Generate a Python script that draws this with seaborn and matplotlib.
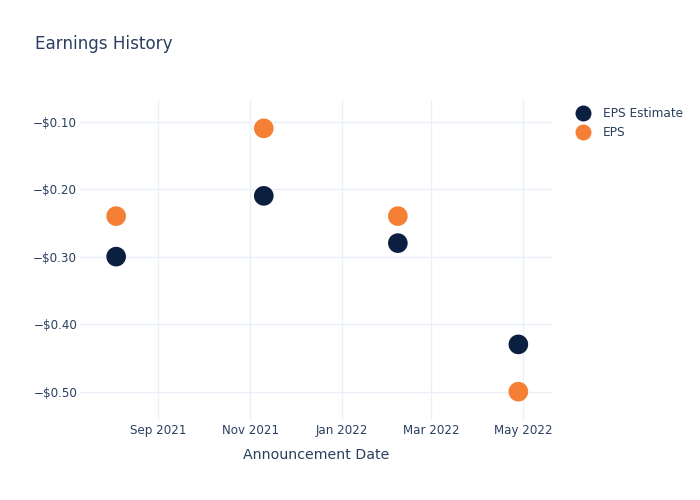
import matplotlib
matplotlib.use("Agg")
import matplotlib.pyplot as plt
import matplotlib.dates as mdates
from matplotlib.ticker import FuncFormatter, FixedLocator
from matplotlib.lines import Line2D
import seaborn as sns
import pandas as pd

dates = ["2021-08-04", "2021-11-10", "2022-02-07", "2022-04-28"]
eps_estimate = [-0.30, -0.21, -0.28, -0.43]
eps_actual = [-0.24, -0.11, -0.24, -0.50]
series_names = ["EPS Estimate", "EPS"]
y_ticks = [-0.10, -0.20, -0.30, -0.40, -0.50]

df = pd.DataFrame({
    "date": pd.to_datetime(dates * 2),
    "value": eps_estimate + eps_actual,
    "series": [series_names[0]] * len(dates) + [series_names[1]] * len(dates),
})

sns.set_style("white")
plt.rcParams['font.family'] = ['DejaVu Sans']
text_color = "#2a3f5f"
grid_color = "#ebf0f8"

fig = plt.figure(figsize=(7, 5), dpi=100)
ax = fig.add_axes([80/700, 1 - 420/500, (553 - 80)/700, (420 - 100)/500])

palette = {"EPS Estimate": "#0b1f41", "EPS": "#f58035"}
sns.scatterplot(data=df, x="date", y="value", hue="series", palette=palette,
                s=200, edgecolor="none", linewidth=0, ax=ax, zorder=3, legend=False)

ax.set_xlim(pd.Timestamp("2021-07-11"), pd.Timestamp("2022-05-21"))
ax.set_ylim(-0.542, -0.068)

ax.xaxis.set_major_locator(mdates.MonthLocator(bymonth=[1, 3, 5, 7, 9, 11]))
ax.xaxis.set_major_formatter(mdates.DateFormatter("%b %Y"))
ax.yaxis.set_major_locator(FixedLocator(y_ticks))
ax.yaxis.set_major_formatter(FuncFormatter(lambda v, p: ("\u2212$%.2f" % abs(v)) if v < 0 else ("$%.2f" % v)))

ax.grid(True, color=grid_color, linewidth=1)
ax.set_axisbelow(True)
for sp in ax.spines.values():
    sp.set_visible(False)
ax.tick_params(axis="both", length=0, labelsize=8.6, colors=text_color)
ax.tick_params(axis="x", pad=3)
ax.tick_params(axis="y", pad=2)

ax.set_xlabel("Announcement Date", fontsize=10.2, color=text_color, labelpad=8)
ax.set_ylabel("")

fig.text(35/700, 1 - 44/500, "Earnings History", fontsize=12.1, color=text_color,
         ha="left", va="center")

handles = [Line2D([], [], linestyle="none", marker="o", markersize=11.5,
                  markerfacecolor=palette[n], markeredgewidth=0) for n in series_names]
leg = fig.legend(handles, series_names, loc="upper left", bbox_to_anchor=(576/700, 1 - 107/500),
                 frameon=False, fontsize=8.7, handletextpad=1.0, labelspacing=0.5,
                 borderaxespad=0, borderpad=0, handlelength=1.2)
for t in leg.get_texts():
    t.set_color(text_color)

fig.savefig("out.png", dpi=100)
